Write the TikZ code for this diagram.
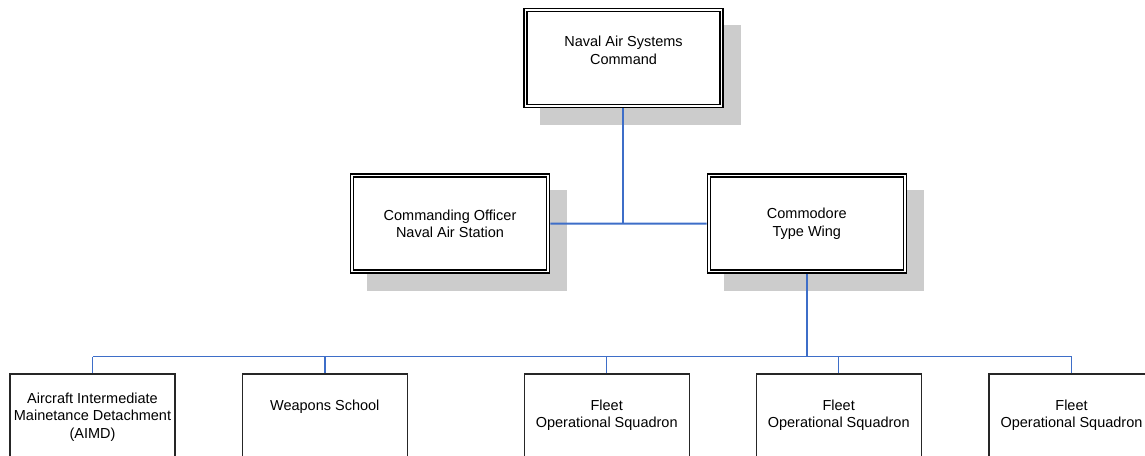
\documentclass[tikz,border=0pt]{standalone}
\usepackage{fontspec}
\setmainfont{Liberation Sans}
\definecolor{linkblue}{RGB}{62,110,200}
\definecolor{shadowgray}{RGB}{204,204,204}
\begin{document}
\begin{tikzpicture}[x=1pt,y=-1pt,
  every node/.style={font=\fontsize{14.5}{17.5}\selectfont},
  dbox/.style={draw=black, fill=white, double=white, double distance=1.5pt, line width=1.5pt,
    minimum width=196pt, minimum height=96pt, inner sep=0pt, outer sep=2.25pt, align=center},
  sbox/.style={draw=black!85, fill=white, line width=1.2pt, minimum width=165pt,
    minimum height=120pt, inner sep=0pt, outer sep=0.6pt, anchor=north},
  txt/.style={inner sep=0pt, outer sep=0pt, align=center, anchor=north},
  boxshadow/.style={fill=shadowgray},
  link/.style={draw=linkblue, line width=1.4pt},
  ]
\useasboundingbox (0,0) rectangle (1145,455);
\clip (0,0) rectangle (1145,455);

% centres of the upper boxes
\coordinate (nascC) at (623.5,57.8);
\coordinate (coC) at (450,223.6);
\coordinate (cmdC) at (806.8,223.6);

% shadows
\foreach \c in {nascC,coC,cmdC}
  \fill[boxshadow] ([shift={(-83.25,-33.25)}]\c) rectangle ([shift={(117.25,67.25)}]\c);

% upper boxes
\node[dbox] (nasc) at (nascC) {};
\node[txt] (nasct) at (623.5,36.3) {Naval Air Systems\\Command};
\node[dbox] (co) at (coC) {Commanding Officer\\Naval Air Station};
\node[dbox] (cmd) at (cmdC) {Commodore\\Type Wing};

% lower boxes
\node[sbox] (s1) at (92.5,373.3) {};
\node[sbox] (s2) at (324.8,373.3) {};
\node[sbox] (s3) at (606.7,373.3) {};
\node[sbox] (s4) at (838.7,373.3) {};
\node[sbox] (s5) at (1071.5,373.3) {};
\node[txt] (s1t) at (92.5,392.5) {Aircraft Intermediate\\Mainetance Detachment\\(AIMD)};
\node[txt] (s2t) at (324.8,399.5) {Weapons School};
\node[txt] (s3t) at (606.7,399.5) {Fleet\\Operational Squadron};
\node[txt] (s4t) at (838.7,399.5) {Fleet\\Operational Squadron};
\node[txt] (s5t) at (1071.5,399.5) {Fleet\\Operational Squadron};

\coordinate (bus) at (0,356.5);
\coordinate (mid) at (623,223.5);

% connectors
\draw[link, line width=1.9pt] (cmd.south) -- (cmd.south |- bus);
\draw[link] (s1.north |- bus) -- (s5.north |- bus);
\foreach \n in {s1,s2,s3,s4,s5}
  \draw[link] (\n.north) -- (\n.north |- bus);
\draw[link, line width=2pt] (co.east) -- (mid) -- (cmd.west);
\draw[link, line width=2pt] (mid |- nasc.south) -- (mid);
\end{tikzpicture}
\end{document}
